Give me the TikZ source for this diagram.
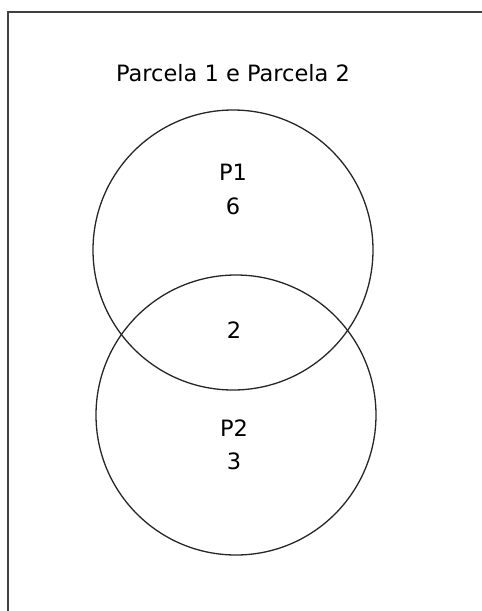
\documentclass[tikz,border=0pt]{standalone}
\usepackage{fontspec}
\setmainfont{DejaVu Sans}
\begin{document}
\begin{tikzpicture}[x=1pt,y=-1pt,
  venn/.style={draw=black!85,line width=1.3pt,circle,minimum size=280pt,inner sep=0pt},
  lbl/.style={anchor=base,inner sep=0pt,font=\fontsize{22.5}{27}\selectfont},
  frame/.style={draw=black!75,line width=2pt}]
\useasboundingbox (0,0) rectangle (482,611);
\coordinate (tl) at (8,12);
\coordinate (tr) at (482,12);
\coordinate (bl) at (8,611);
\draw[frame] (bl) -- (tl) -- (tr);
\node[venn] (c1) at (233,250) {};
\node[venn] (c2) at (236,415) {};
\node[lbl] (title) at (233,81) {Parcela 1 e Parcela 2};
\node[lbl] (p1) at (233,180) {P1};
\node[lbl] (n6) at (233,214) {6};
\node[lbl] (n2) at (234,338) {2};
\node[lbl] (p2) at (234,436) {P2};
\node[lbl] (n3) at (234,469) {3};
\end{tikzpicture}
\end{document}
